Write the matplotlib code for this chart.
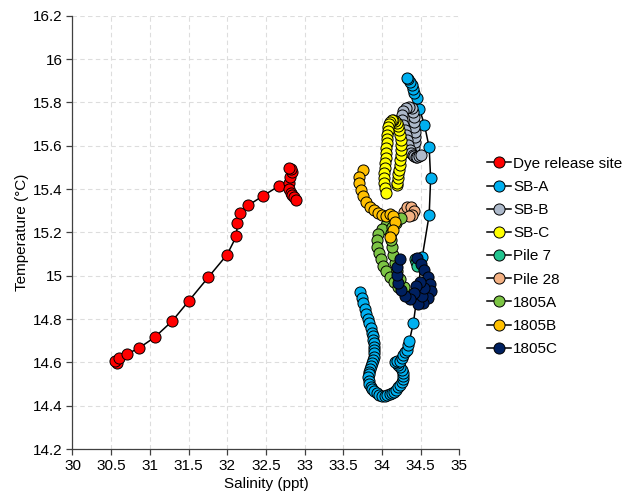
import numpy as np
import matplotlib
matplotlib.use('Agg')
import matplotlib.pyplot as plt
from matplotlib.ticker import FuncFormatter, MultipleLocator

plt.rcParams['font.family'] = ['Liberation Sans', 'DejaVu Sans']

# --- data: (salinity ppt, temperature degC) ---
dye_sal = [30.572, 30.550, 30.605, 30.709, 30.864, 31.063, 31.287, 31.507, 31.756, 31.998,
           32.118, 32.131, 32.162, 32.273, 32.460, 32.667, 32.796, 32.813, 32.842, 32.822,
           32.796, 32.804, 32.822, 32.842, 32.864, 32.894]
dye_tmp = [14.596, 14.608, 14.619, 14.639, 14.667, 14.716, 14.790, 14.885, 14.993, 15.097,
           15.182, 15.243, 15.288, 15.325, 15.368, 15.414, 15.426, 15.454, 15.477, 15.492,
           15.496, 15.399, 15.383, 15.372, 15.362, 15.349]

sba_sal = [33.718, 33.737, 33.753, 33.775, 33.795, 33.815, 33.838, 33.855, 33.869, 33.880,
           33.890, 33.896, 33.899, 33.900, 33.899, 33.892, 33.882, 33.870, 33.856, 33.846,
           33.838, 33.830, 33.825, 33.828, 33.838, 33.855, 33.875, 33.900, 33.930, 33.965,
           34.000, 34.035, 34.070, 34.100, 34.130, 34.160, 34.185, 34.210, 34.235, 34.255,
           34.268, 34.275, 34.270, 34.257, 34.236, 34.213, 34.190, 34.170, 34.200, 34.235,
           34.258, 34.278, 34.300, 34.322, 34.340, 34.355, 34.407, 34.520, 34.610, 34.629,
           34.610, 34.549, 34.485, 34.451, 34.420, 34.407, 34.386, 34.364, 34.342, 34.322]
sba_tmp = [14.925, 14.899, 14.873, 14.848, 14.823, 14.800, 14.780, 14.758, 14.737, 14.720,
           14.703, 14.688, 14.672, 14.657, 14.642, 14.626, 14.611, 14.597, 14.583, 14.570,
           14.557, 14.544, 14.531, 14.516, 14.501, 14.488, 14.476, 14.466, 14.458, 14.451,
           14.446, 14.446, 14.448, 14.452, 14.458, 14.465, 14.474, 14.484, 14.496, 14.510,
           14.524, 14.538, 14.551, 14.565, 14.577, 14.588, 14.596, 14.603, 14.606, 14.608,
           14.620, 14.634, 14.646, 14.657, 14.678, 14.700, 14.783, 15.085, 15.280, 15.449,
           15.593, 15.696, 15.769, 15.822, 15.842, 15.862, 15.880, 15.895, 15.908, 15.914]

sbb_sal = [34.416, 34.429, 34.429, 34.425, 34.420, 34.420, 34.416, 34.407, 34.386, 34.355,
           34.313, 34.278, 34.261, 34.265, 34.278, 34.296, 34.313, 34.329, 34.342, 34.364,
           34.380, 34.399, 34.420, 34.440, 34.451, 34.475, 34.507]
sbb_tmp = [15.595, 15.618, 15.641, 15.665, 15.688, 15.711, 15.734, 15.757, 15.773, 15.780,
           15.775, 15.760, 15.742, 15.719, 15.695, 15.672, 15.649, 15.626, 15.603, 15.580,
           15.565, 15.557, 15.553, 15.548, 15.549, 15.552, 15.557]

sbc_sal = [34.192, 34.198, 34.205, 34.213, 34.222, 34.229, 34.235, 34.242, 34.248, 34.247,
           34.244, 34.236, 34.226, 34.210, 34.192, 34.170, 34.148, 34.127, 34.106, 34.092,
           34.084, 34.077, 34.071, 34.066, 34.063, 34.058, 34.054, 34.047, 34.041, 34.034,
           34.028, 34.026, 34.028, 34.040, 34.054]
sbc_tmp = [15.419, 15.430, 15.450, 15.469, 15.488, 15.511, 15.534, 15.557, 15.580, 15.603,
           15.626, 15.649, 15.672, 15.690, 15.703, 15.713, 15.719, 15.717, 15.711, 15.700,
           15.688, 15.668, 15.649, 15.630, 15.611, 15.588, 15.565, 15.542, 15.519, 15.496,
           15.473, 15.450, 15.426, 15.403, 15.380]

pile7_sal = [34.423, 34.436, 34.451]
pile7_tmp = [15.079, 15.063, 15.045]

pile28_sal = [34.287, 34.325, 34.377, 34.416, 34.390, 34.351]
pile28_tmp = [15.293, 15.317, 15.317, 15.298, 15.280, 15.275]

a1805_sal = [34.054, 34.002, 33.951, 33.931, 33.937, 33.957, 33.983, 34.015, 34.054, 34.099,
             34.151, 34.203, 34.255, 34.287, 34.235, 34.196, 34.170, 34.145, 34.132, 34.119,
             34.112, 34.132, 34.184, 34.248]
a1805_tmp = [15.234, 15.215, 15.192, 15.165, 15.133, 15.105, 15.075, 15.047, 15.022, 14.994,
             14.971, 14.950, 14.934, 14.948, 14.985, 15.022, 15.059, 15.096, 15.133, 15.165,
             15.197, 15.225, 15.243, 15.268]

b1805_sal = [33.757, 33.705, 33.705, 33.731, 33.757, 33.795, 33.847, 33.899, 33.951, 34.002,
             34.054, 34.106, 34.145, 34.170, 34.145, 34.106]
b1805_tmp = [15.487, 15.455, 15.427, 15.395, 15.368, 15.340, 15.317, 15.303, 15.289, 15.280,
             15.275, 15.284, 15.275, 15.248, 15.211, 15.178]

c1805_sal = [34.455, 34.507, 34.545, 34.597, 34.623, 34.636, 34.597, 34.532, 34.468, 34.520,
             34.545, 34.494, 34.442, 34.416, 34.364, 34.300, 34.248, 34.209, 34.196, 34.196,
             34.229]
c1805_tmp = [15.082, 15.054, 15.026, 14.994, 14.962, 14.930, 14.897, 14.874, 14.869, 14.906,
             14.943, 14.971, 14.952, 14.920, 14.892, 14.906, 14.934, 14.966, 15.003, 15.040,
             15.075]

series = [
    ('Dye release site', dye_sal, dye_tmp, '#FF0000'),
    ('SB-A', sba_sal, sba_tmp, '#00B0F0'),
    ('SB-B', sbb_sal, sbb_tmp, '#ADB9CA'),
    ('SB-C', sbc_sal, sbc_tmp, '#FFFF00'),
    ('Pile 7', pile7_sal, pile7_tmp, '#22C48F'),
    ('Pile 28', pile28_sal, pile28_tmp, '#F4B183'),
    ('1805A', a1805_sal, a1805_tmp, '#7CC444'),
    ('1805B', b1805_sal, b1805_tmp, '#FFC000'),
    ('1805C', c1805_sal, c1805_tmp, '#002060'),
]

fig = plt.figure(figsize=(6.27, 5.04), dpi=100)
ax = fig.add_axes([0.1156, 0.1091, 0.7326 - 0.1156, 0.9688 - 0.1091])

for name, s, t, col in series:
    ax.plot(s, t, '-o', color='black', linewidth=1.1, markersize=8,
            markerfacecolor=col, markeredgecolor='black', markeredgewidth=0.7,
            label=name)

ax.set_xlim(30, 35)
ax.set_ylim(14.2, 16.2)
ax.xaxis.set_major_locator(MultipleLocator(0.5))
ax.yaxis.set_major_locator(MultipleLocator(0.2))
fmt = FuncFormatter(lambda v, p: '%g' % round(v, 2))
ax.xaxis.set_major_formatter(fmt)
ax.yaxis.set_major_formatter(fmt)

ax.grid(True, color='#DDDDDD', linestyle=(0, (4, 3)), linewidth=0.8)
ax.set_axisbelow(True)
for side in ('top', 'right'):
    ax.spines[side].set_visible(False)
for side in ('left', 'bottom'):
    ax.spines[side].set_color('#404040')
    ax.spines[side].set_linewidth(0.9)
ax.tick_params(direction='out', length=4, width=0.9, color='#404040',
               labelsize=11, pad=3)

ax.set_xlabel('Salinity (ppt)', fontsize=11, labelpad=3)
ax.set_ylabel('Temperature (°C)', fontsize=11, labelpad=3)

ax.legend(loc='center left', bbox_to_anchor=(487 / 627, 1 - 256.5 / 504),
          bbox_transform=fig.transFigure, frameon=False, fontsize=11,
          handlelength=1.6, handletextpad=0.1, labelspacing=0.6,
          borderpad=0, borderaxespad=0)

fig.savefig('out.png', dpi=100)
